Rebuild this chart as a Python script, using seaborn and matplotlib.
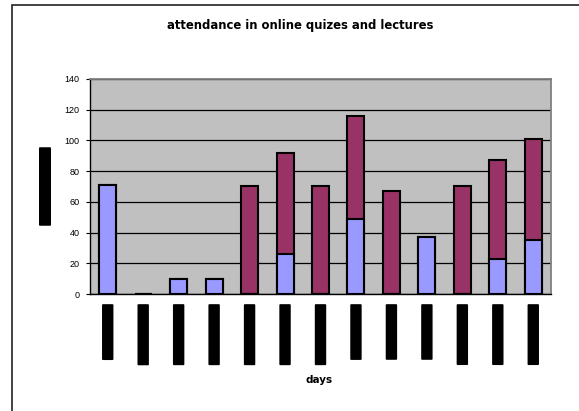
import numpy as np
import pandas as pd
import matplotlib
matplotlib.use("Agg")
import matplotlib.pyplot as plt
from matplotlib.patches import BoxStyle, Rectangle
import seaborn as sns

# daten
days = ["6/03/2006", "13/03/2006", "14/03/2006", "15/03/2006", "20/03/2006",
        "21/03/2006", "22/03/2006", "3/04/2006", "4/04/2006", "5/04/2006",
        "10/04/2006", "11/04/2006", "12/04/2006"]
quizzes = [71, 0, 10, 10, 0, 26, 0, 49, 0, 37, 0, 23, 35]
lectures = [0, 0, 0, 0, 70, 66, 70, 67, 67, 0, 70, 64, 66]
yticks = [0, 20, 40, 60, 80, 100, 120, 140]

df = pd.DataFrame({"day": days, "quiz": quizzes, "lecture": lectures})
df["total"] = df["quiz"] + df["lecture"]

sns.set_style("white")
plt.rcParams["font.family"] = ["Liberation Sans", "DejaVu Sans"]
plt.rcParams["text.color"] = "black"
plt.rcParams["axes.labelcolor"] = "black"
plt.rcParams["xtick.color"] = "black"
plt.rcParams["ytick.color"] = "black"

BLUE = "#9999FF"
PURPLE = "#993366"


def black_box(pad_long, pad_short):
    # schwarze leicht abgerundete box um den text (wie im original)
    rounded = BoxStyle.Round(pad=0, rounding_size=0.12)

    def style(x0, y0, width, height, mutation_size):
        return rounded(x0 - pad_long, y0 - pad_short,
                       width + 2 * pad_long, height + 2 * pad_short, mutation_size)
    return style


W, H = 579, 411
fig = plt.figure(figsize=(W / 100, H / 100), dpi=100)
ax = fig.add_axes([90 / W, 1 - 294 / H, 461 / W, 215 / H])
ax.set_facecolor("#C0C0C0")

sns.barplot(data=df, x="day", y="total", color=PURPLE, saturation=1, width=0.48,
            edgecolor="black", linewidth=1.5, errorbar=None, ax=ax)
sns.barplot(data=df, x="day", y="quiz", color=BLUE, saturation=1, width=0.48,
            edgecolor="black", linewidth=1.5, errorbar=None, ax=ax)

ax.set_xlim(-0.5, len(days) - 0.5)
ax.set_ylim(0, 140)
ax.set_yticks(yticks)
ax.set_axisbelow(True)
ax.yaxis.grid(True, color="black", linewidth=0.9)
ax.xaxis.grid(False)

for side in ["left", "bottom"]:
    ax.spines[side].set_color("black")
    ax.spines[side].set_linewidth(1.0)
for side in ["top", "right"]:
    ax.spines[side].set_color("#808080")
    ax.spines[side].set_linewidth(1.3)

ax.set_xticks(range(len(days)))
ax.set_xticklabels(days)
ax.set_xticks(np.arange(-0.5, len(days), 1), minor=True)
ax.tick_params(axis="x", which="major", length=0, pad=12, labelrotation=90)
ax.tick_params(axis="x", which="minor", length=3, width=0.8, direction="out", color="black")
ax.tick_params(axis="y", which="major", length=3, width=0.8, direction="out",
               color="black", labelsize=6.5, labelcolor="black", pad=4.5, left=True)

for lbl in ax.get_xticklabels():
    lbl.set_fontfamily("DejaVu Sans")
    lbl.set_fontsize(6)
    lbl.set_color("black")
    lbl.set_bbox(dict(boxstyle=black_box(6.5, 1.2), facecolor="black", edgecolor="none"))

ax.set_xlabel("days", fontsize=7.5, fontweight="bold", family="DejaVu Sans", va="center", color="black")
ax.xaxis.set_label_coords((319 - 90) / 461, (294 - 380) / 215)

ylab = ax.set_ylabel("number of students", fontsize=5.5, family="DejaVu Sans", color="black", va="center")
ylab.set_bbox(dict(boxstyle=black_box(1.5, 1.5), facecolor="black", edgecolor="none"))
ax.yaxis.set_label_coords((45 - 90) / 461, 0.5)

fig.text(300 / W, 1 - 26 / H, "attendance in online quizes and lectures",
         ha="center", va="center", fontsize=8.4, fontweight="bold", family="DejaVu Sans", color="black")

# rahmen des diagrammbereichs (rechts und unten abgeschnitten)
fig.add_artist(Rectangle((12 / W, -0.1), 1.2, (1 - 5 / H) + 0.1, transform=fig.transFigure,
                         fill=False, edgecolor="#222222", linewidth=1.2))

fig.savefig("out.png", dpi=100)
